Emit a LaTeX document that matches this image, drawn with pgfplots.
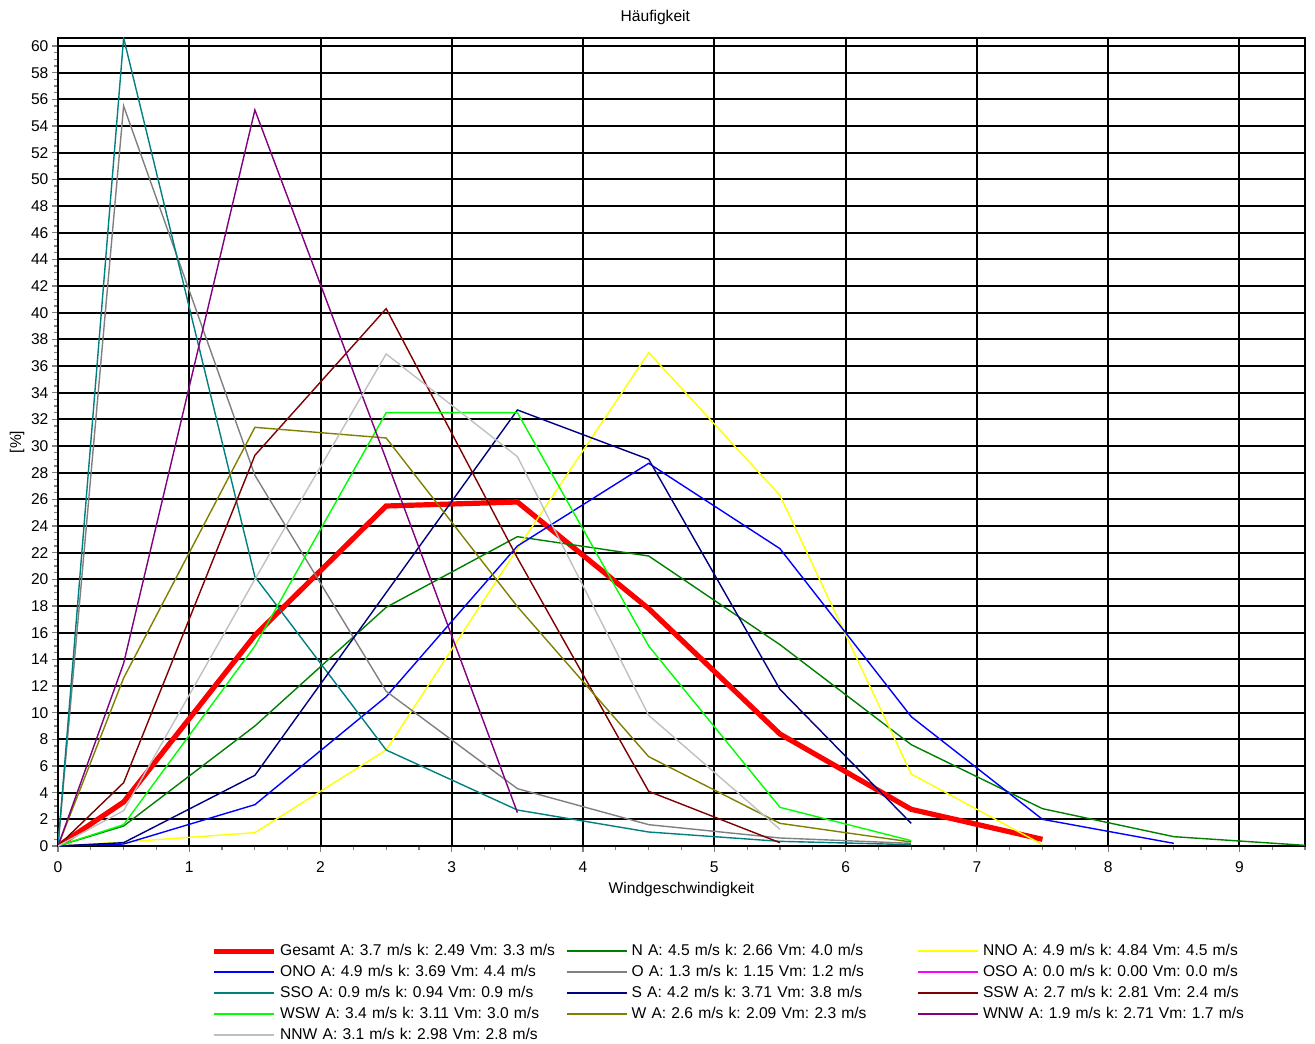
\documentclass[border=0pt]{standalone}
\usepackage{fontspec}
\setmainfont{Liberation Sans}
\usepackage{pgfplots}
\pgfplotsset{compat=1.18}
\definecolor{cN}{RGB}{0,128,0}
\definecolor{cNNO}{RGB}{255,255,0}
\definecolor{cONO}{RGB}{0,0,255}
\definecolor{cO}{RGB}{128,128,128}
\definecolor{cOSO}{RGB}{255,0,255}
\definecolor{cSSO}{RGB}{0,128,128}
\definecolor{cS}{RGB}{0,0,128}
\definecolor{cSSW}{RGB}{128,0,0}
\definecolor{cWSW}{RGB}{0,255,0}
\definecolor{cW}{RGB}{128,128,0}
\definecolor{cWNW}{RGB}{128,0,128}
\definecolor{cNNW}{RGB}{192,192,192}
\newcommand{\fs}{\fontsize{7.8}{9}\selectfont}

\begin{document}
\frenchspacing
\fs
\begin{tikzpicture}
\begin{axis}[name=ax,
  scale only axis, width=623.5pt, height=404pt,
  xmin=0, xmax=9.5, ymin=0, ymax=60.6,
  xtick distance=1, ytick distance=2,
  minor x tick num=3, minor y tick num=3,
  grid=major, major grid style={black, line width=1pt},
  axis line style={black, line width=1pt},
  tick align=outside, xtick pos=bottom, ytick pos=left,
  major tick length=3pt, minor tick length=2pt,
  every tick/.style={gray, line width=0.6pt},
  /pgf/number format/assume math mode=true,
  ticklabel style={font=\fs},
  xticklabel style={yshift=-2pt},
  yticklabel style={xshift=1pt},
  title=Häufigkeit,
  title style={font=\fs, at={(axis description cs:0.479,1)}, anchor=center, yshift=4.5pt},
  xlabel=Windgeschwindigkeit,
  xlabel style={font=\fs, at={(axis description cs:0.5,0)}, anchor=center, yshift=-21.5pt},
  ylabel={[\%]},
  ylabel style={font=\fs, at={(axis description cs:0,0.5)}, anchor=center, yshift=20.5pt},
  legend columns=3,
  legend cell align=left,
  legend image code/.code={\draw[#1] (0pt,0pt) -- (30pt,0pt);},
  legend style={draw=none, fill=none, inner sep=0pt, outer sep=0pt,
    at={(axis description cs:0.1227,-0.119)}, anchor=north west,
    font=\fs, row sep=1.5pt, column sep=1.5pt,
    nodes={inner sep=0.5pt, text width=141pt, text height=6pt, text depth=2pt}},
]
\addplot[red, line width=2.6pt] coordinates {
  (0,0) (0.5,3.3) (1.5,15.8) (2.5,25.5) (3.5,25.8) (4.5,17.8) (5.5,8.4) (6.5,2.75) (7.5,0.5)};
\addlegendentry{Gesamt A: 3.7 m/s k: 2.49 Vm: 3.3 m/s}
\addplot[cN, line width=0.7pt] coordinates {
  (0,0) (0.5,1.5) (1.5,9.0) (2.5,17.9) (3.5,23.2) (4.5,21.75) (5.5,15.1) (6.5,7.6) (7.5,2.8) (8.5,0.7) (9.5,0.05)};
\addlegendentry{N A: 4.5 m/s k: 2.66 Vm: 4.0 m/s}
\addplot[cNNO, line width=0.7pt] coordinates {
  (0,0) (0.5,0.3) (1.5,1.0) (2.5,7.2) (3.5,22.3) (4.5,37.0) (5.5,26.3) (6.5,5.4) (7.5,0.1)};
\addlegendentry{NNO A: 4.9 m/s k: 4.84 Vm: 4.5 m/s}
\addplot[cONO, line width=0.7pt] coordinates {
  (0,0) (0.5,0.15) (1.5,3.1) (2.5,11.2) (3.5,22.5) (4.5,28.7) (5.5,22.3) (6.5,9.7) (7.5,2.0) (8.5,0.2)};
\addlegendentry{ONO A: 4.9 m/s k: 3.69 Vm: 4.4 m/s}
\addplot[cO, line width=0.7pt] coordinates {
  (0,0) (0.5,55.5) (1.5,27.8) (2.5,11.6) (3.5,4.3) (4.5,1.6) (5.5,0.6) (6.5,0.2)};
\addlegendentry{O A: 1.3 m/s k: 1.15 Vm: 1.2 m/s}
\addlegendimage{cOSO, line width=0.7pt}
\addlegendentry{OSO A: 0.0 m/s k: 0.00 Vm: 0.0 m/s}
\addplot[cSSO, line width=0.7pt] coordinates {
  (0,0) (0.5,60.6) (1.5,20.2) (2.5,7.2) (3.5,2.7) (4.5,1.05) (5.5,0.35) (6.5,0.1)};
\addlegendentry{SSO A: 0.9 m/s k: 0.94 Vm: 0.9 m/s}
\addplot[cS, line width=0.7pt] coordinates {
  (0,0) (0.5,0.25) (1.5,5.3) (2.5,19.0) (3.5,32.7) (4.5,29.0) (5.5,11.75) (6.5,1.7)};
\addlegendentry{S A: 4.2 m/s k: 3.71 Vm: 3.8 m/s}
\addplot[cSSW, line width=0.7pt] coordinates {
  (0,0) (0.5,4.75) (1.5,29.3) (2.5,40.3) (3.5,21.6) (4.5,4.1) (5.5,0.25)};
\addlegendentry{SSW A: 2.7 m/s k: 2.81 Vm: 2.4 m/s}
\addplot[cWSW, line width=0.7pt] coordinates {
  (0,0) (0.5,1.6) (1.5,15.0) (2.5,32.5) (3.5,32.5) (4.5,15.0) (5.5,2.9) (6.5,0.4)};
\addlegendentry{WSW A: 3.4 m/s k: 3.11 Vm: 3.0 m/s}
\addplot[cW, line width=0.7pt] coordinates {
  (0,0) (0.5,12.6) (1.5,31.4) (2.5,30.6) (3.5,17.95) (4.5,6.7) (5.5,1.7) (6.5,0.3)};
\addlegendentry{W A: 2.6 m/s k: 2.09 Vm: 2.3 m/s}
\addplot[cWNW, line width=0.7pt] coordinates {
  (0,0) (0.5,13.7) (1.5,55.2) (2.5,29.0) (3.5,2.5)};
\addlegendentry{WNW A: 1.9 m/s k: 2.71 Vm: 1.7 m/s}
\addplot[cNNW, line width=0.7pt] coordinates {
  (0,0) (0.5,2.65) (1.5,20.0) (2.5,36.9) (3.5,29.2) (4.5,9.8) (5.5,1.25)};
\addlegendentry{NNW A: 3.1 m/s k: 2.98 Vm: 2.8 m/s}
\end{axis}
\pgfresetboundingbox
\path[use as bounding box] ([xshift=-29pt,yshift=-98.5pt]ax.south west) rectangle ([xshift=5pt,yshift=19pt]ax.north east);
\end{tikzpicture}
\end{document}
